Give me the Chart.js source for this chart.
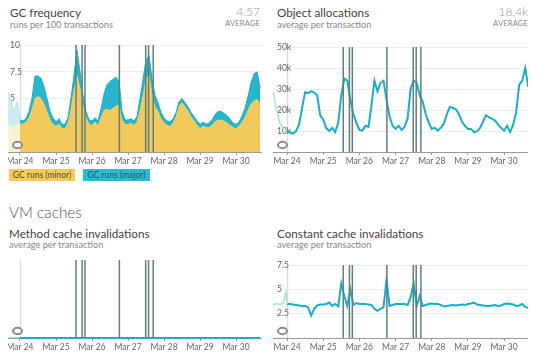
<!DOCTYPE html>
<html>
<head>
<meta charset="utf-8">
<script src="https://cdn.jsdelivr.net/npm/chart.js@4/dist/chart.umd.min.js"></script>
<style>
  html,body{margin:0;padding:0;background:#fff;}
  body{width:540px;height:360px;position:relative;overflow:hidden;font-family:Lato,"Open Sans",sans-serif;}
  .t{position:absolute;line-height:1;white-space:nowrap;}
  .title{font-size:11.7px;color:#444;}
  .sub{font-size:9.2px;color:#888;}
  .val{font-size:12px;color:#999;font-weight:300;text-align:right;}
  .avg{font-size:7.5px;color:#888;letter-spacing:0.2px;text-align:right;}
  .cv{position:absolute;}
  .leg{position:absolute;height:12px;line-height:12px;font-size:8.5px;text-align:center;}
</style>
</head>
<body>
<div class="t title" style="left:10px;top:7.2px;">GC frequency</div>
<div class="t sub" style="left:10px;top:19.9px;">runs per 100 transactions</div>
<div class="t val" style="right:280px;top:6.4px;">4.57</div>
<div class="t avg" style="right:280px;top:20.3px;">AVERAGE</div>

<div class="t title" style="left:277px;top:7.2px;">Object allocations</div>
<div class="t sub" style="left:277px;top:19.9px;">average per transaction</div>
<div class="t val" style="right:12px;top:6.4px;">18.4k</div>
<div class="t avg" style="right:12px;top:20.3px;">AVERAGE</div>

<div class="leg" style="left:9px;top:169px;width:66px;background:#f2cd5c;color:#5a4a20;">GC runs (minor)</div>
<div class="leg" style="left:83px;top:169px;width:67px;background:#2bbad3;color:#2d5663;">GC runs (major)</div>

<div class="t" style="left:9px;top:204.5px;font-size:15.3px;color:#555;font-weight:300;">VM caches</div>

<div class="t title" style="left:9px;top:227.6px;">Method cache invalidations</div>
<div class="t sub" style="left:9px;top:239.9px;">average per transaction</div>

<div class="t title" style="left:277px;top:227.6px;">Constant cache invalidations</div>
<div class="t sub" style="left:277px;top:239.9px;">average per transaction</div>

<canvas id="cA" class="cv" style="left:8px;top:38px;" width="254" height="134"></canvas>
<canvas id="cB" class="cv" style="left:273px;top:38px;" width="255" height="134"></canvas>
<canvas id="cC" class="cv" style="left:8px;top:256px;" width="254" height="102"></canvas>
<canvas id="cD" class="cv" style="left:273px;top:256px;" width="255" height="102"></canvas>

<script>
// ---- data ----
const tickDays = [0, 1, 2, 3, 4, 5, 6];
const tickLabels = ['Mar 24', 'Mar 25', 'Mar 26', 'Mar 27', 'Mar 28', 'Mar 29', 'Mar 30'];
const deployDays = [1.555, 1.725, 1.805, 2.76, 3.49, 3.57, 3.70];

const hours = [0,2,4,6,8,10,12,14,16,18,20,22,24,26,28,30,32,34,36,38,40,42,44,46,48,50,52,54,56,58,60,62,64,66,68,70,72,74,76,78,80,82,84,86,88,90,92,94,96,98,100,102,104,106,108,110,112,114,116,118,120,122,124,126,128,130,132,134,136,138,140,142,144,146,148,150,152,154,156,158,160];

const gcTotal = [3.0,2.9,3.1,3.8,5.0,7.1,7.1,6.9,6.1,5.0, 3.8,3.2,2.8,3.1,2.6,2.6,3.2,5.0,7.2,9.5, 7.5,5.3,3.8,3.0,2.9,3.2,2.9,4.0,5.4,6.3, 6.6,6.8,7.0,6.6,3.8,3.0,3.0,3.1,2.9,3.3, 5.0,6.8,8.6,9.0,6.8,5.3,4.6,3.7,3.2,2.9, 2.8,3.1,3.7,4.7,5.0,4.6,4.2,3.7,3.3,2.9, 2.6,2.8,2.6,2.7,3.0,3.5,3.8,3.8,3.6,3.4, 3.1,2.7,2.6,2.8,3.4,4.1,5.2,6.5,7.3,7.5, 6.0];
const gcMinor = [2.7,2.6,2.8,3.2,4.0,5.0,5.2,5.0,4.5,3.8, 3.0,2.6,2.4,2.6,2.2,2.2,2.7,4.0,5.8,7.1, 6.0,4.3,3.2,2.6,2.5,2.8,2.5,3.2,3.9,4.0, 3.9,4.1,4.3,4.4,3.0,2.6,2.6,2.7,2.5,2.8, 3.9,5.3,6.9,7.2,5.4,4.2,3.8,3.1,2.7,2.5, 2.4,2.7,3.3,4.3,4.6,4.2,3.8,3.3,2.9,2.5, 2.2,2.4,2.3,2.3,2.5,2.8,3.0,3.0,2.9,2.7, 2.5,2.3,2.2,2.4,2.8,3.3,3.9,4.5,4.8,4.9, 4.5];
const gcPreDays = [-0.33,-0.25,-0.17,-0.08,0];
const gcPreTotal = [5.6,4.8,3.7,4.7,3.0];
const gcPreMinor = [2.6,2.5,2.4,2.6,2.7];

const allocK = [10,9.3,8.8,10,13,21,28.5,28,29,28.3, 27,17.5,15.5,11.5,10,11.5,9.5,14,27,35, 34,25,18,14,10.5,10.2,12.5,12,22,34, 29,33,34,25,17,12.5,11,12.5,10.5,12, 16,30,34,33,27,24,18,14,11,11.5, 10.2,11.5,13.5,18,21.5,21,20.5,18,14.5,12.5, 11,11,9.5,9.8,11.5,14.5,17.5,16.5,15.8,15, 13,11.5,10.2,12.5,9.5,13,19,32,34,40, 31];
const allocPreDays = [-0.39,-0.3,-0.2,-0.1,0];
const allocPreK = [29,21,14,11,10];

const methodCache = [0,0,0,0,0,0,0,0,0,0, 0,0,0,0,0,0,0,0,0,0, 0,0,0,0,0,0,0,0,0,0, 0,0,0,0,0,0,0,0,0,0, 0,0,0,0,0,0,0,0,0,0, 0,0,0,0,0,0,0,0,0,0, 0,0,0,0,0,0,0,0,0,0, 0,0,0,0,0,0,0,0,0,0, 0];
const methodPreDays = [-0.33,0];
const methodPre = [0,0];

const constCache = [3.5,3.5,3.45,3.4,3.35,3.3,3.3,3.15,2.3,3.0, 3.35,3.45,3.45,3.5,3.65,3.3,3.5,3.25,5.6,4.3, 3.3,5.0,3.4,3.6,3.5,3.5,3.5,3.45,3.4,3.0, 2.8,3.0,3.15,6.0,3.3,3.4,3.5,3.5,3.5,3.5, 3.4,4.2,5.6,3.3,4.3,3.3,3.4,3.5,3.55,3.5, 3.5,3.4,3.25,3.3,3.35,3.4,3.35,3.4,3.45,3.4, 3.5,3.55,3.65,3.45,3.4,3.35,3.3,3.3,3.35,3.4, 3.3,3.35,3.5,3.55,3.5,3.45,3.3,3.35,3.5,3.2, 3.1];
const constPreDays = [-0.39,-0.3,-0.2,-0.1,-0.03,0];
const constPre = [3.4,3.55,3.45,3.6,4.7,3.5];

// ---- helpers ----
Chart.defaults.font.family = 'Lato';
const pts = (xs, ys) => xs.map((x, i) => ({x: x, y: ys[i]}));
const mainPts = ys => pts(hours.map(h => h / 24), ys);

const decor = {
  id: 'decor',
  beforeDraw(chart) {
    const {ctx, chartArea: {top, bottom}, scales: {x}} = chart;
    const px = Math.round(x.getPixelForValue(0)) + 0.5;
    ctx.save();
    ctx.strokeStyle = '#dcdcdc'; ctx.lineWidth = 1.5;
    ctx.beginPath(); ctx.moveTo(px, top); ctx.lineTo(px, bottom); ctx.stroke();
    ctx.restore();
  },
  afterDatasetsDraw(chart) {
    const {ctx, chartArea: {top, bottom, left}, scales: {x}} = chart;
    ctx.save();
    ctx.strokeStyle = '#5e8078'; ctx.lineWidth = 1.5;
    deployDays.forEach(d => {
      const px = x.getPixelForValue(d);
      ctx.beginPath(); ctx.moveTo(px, top); ctx.lineTo(px, bottom); ctx.stroke();
    });
    ctx.beginPath();
    ctx.ellipse(left + 9.5, bottom - 7, 4.5, 3.2, 0, 0, Math.PI * 2);
    ctx.fillStyle = 'rgba(255,255,255,0.85)'; ctx.fill();
    ctx.strokeStyle = '#8a8a8a'; ctx.lineWidth = 2; ctx.stroke();
    ctx.restore();
  }
};

function opts(xmin, xmax, ymax, step, fmt, ypad, showY) {
  return {
    responsive: false, animation: false, maintainAspectRatio: false,
    layout: {padding: {top: 4, left: 0, right: 0, bottom: 0}},
    plugins: {legend: {display: false}, tooltip: {enabled: false}},
    elements: {point: {radius: 0}, line: {tension: 0}},
    scales: {
      x: {
        type: 'linear', min: xmin, max: xmax,
        afterBuildTicks: s => { s.ticks = tickDays.map(v => ({value: v})); },
        afterFit: s => { s.paddingLeft = 0; s.paddingRight = 0; s.height = 20; },
        ticks: {autoSkip: false, maxRotation: 0, padding: 1, color: '#666', font: {size: 8.5},
                callback: v => tickLabels[tickDays.indexOf(v)]},
        grid: {drawOnChartArea: false, drawTicks: true, tickLength: 3, color: '#999'},
        border: {display: true, color: '#9a9a9a'}
      },
      y: {
        min: 0, max: ymax,
        afterFit: s => { s.width = 0; },
        ticks: {display: showY, mirror: true, padding: ypad, stepSize: step, color: '#666', font: {size: 8.5},
                callback: v => v === 0 ? '' : fmt(v)},
        grid: {display: showY, color: '#eeeeee', drawTicks: false},
        border: {display: false}
      }
    }
  };
}

// GC frequency
new Chart(document.getElementById('cA'), {
  type: 'line',
  data: {datasets: [
    {data: pts(gcPreDays, gcPreMinor), fill: 'origin', backgroundColor: '#fbf1d3', borderWidth: 0},
    {data: pts(gcPreDays, gcPreTotal), fill: '-1', backgroundColor: '#cbedf3', borderColor: '#b3e3ec', borderWidth: 1},
    {data: mainPts(gcMinor), fill: 'origin', backgroundColor: '#f2ca5b', borderColor: '#f2ca5b', borderWidth: 0.5},
    {data: mainPts(gcTotal), fill: '-1', backgroundColor: '#27b6ce', borderColor: '#1eaac6', borderWidth: 1}
  ]},
  options: opts(-0.333, 6.72, 10, 2.5, v => String(v), 2, true),
  plugins: [decor]
});

// Object allocations
new Chart(document.getElementById('cB'), {
  type: 'line',
  data: {datasets: [
    {data: pts(allocPreDays, allocPreK), fill: false, borderColor: '#a9dfe8', borderWidth: 1.5},
    {data: mainPts(allocK), fill: false, borderColor: '#1aadca', borderWidth: 2}
  ]},
  options: opts(-0.387, 6.66, 50, 10, v => v + 'k', 4, true),
  plugins: [decor]
});

// Method cache invalidations
new Chart(document.getElementById('cC'), {
  type: 'line',
  data: {datasets: [
    {data: pts(methodPreDays, methodPre), fill: false, borderColor: '#a9dfe8', borderWidth: 2},
    {data: mainPts(methodCache), fill: false, borderColor: '#1aadca', borderWidth: 2, clip: 4}
  ]},
  options: opts(-0.333, 6.72, 1, 1, v => String(v), 2, false),
  plugins: [decor]
});

// Constant cache invalidations
new Chart(document.getElementById('cD'), {
  type: 'line',
  data: {datasets: [
    {data: pts(constPreDays, constPre), fill: false, borderColor: '#a9dfe8', borderWidth: 1.5},
    {data: mainPts(constCache), fill: false, borderColor: '#1aadca', borderWidth: 2}
  ]},
  options: opts(-0.387, 6.66, 7.5, 2.5, v => String(v), 4, true),
  plugins: [decor]
});
</script>
</body>
</html>
